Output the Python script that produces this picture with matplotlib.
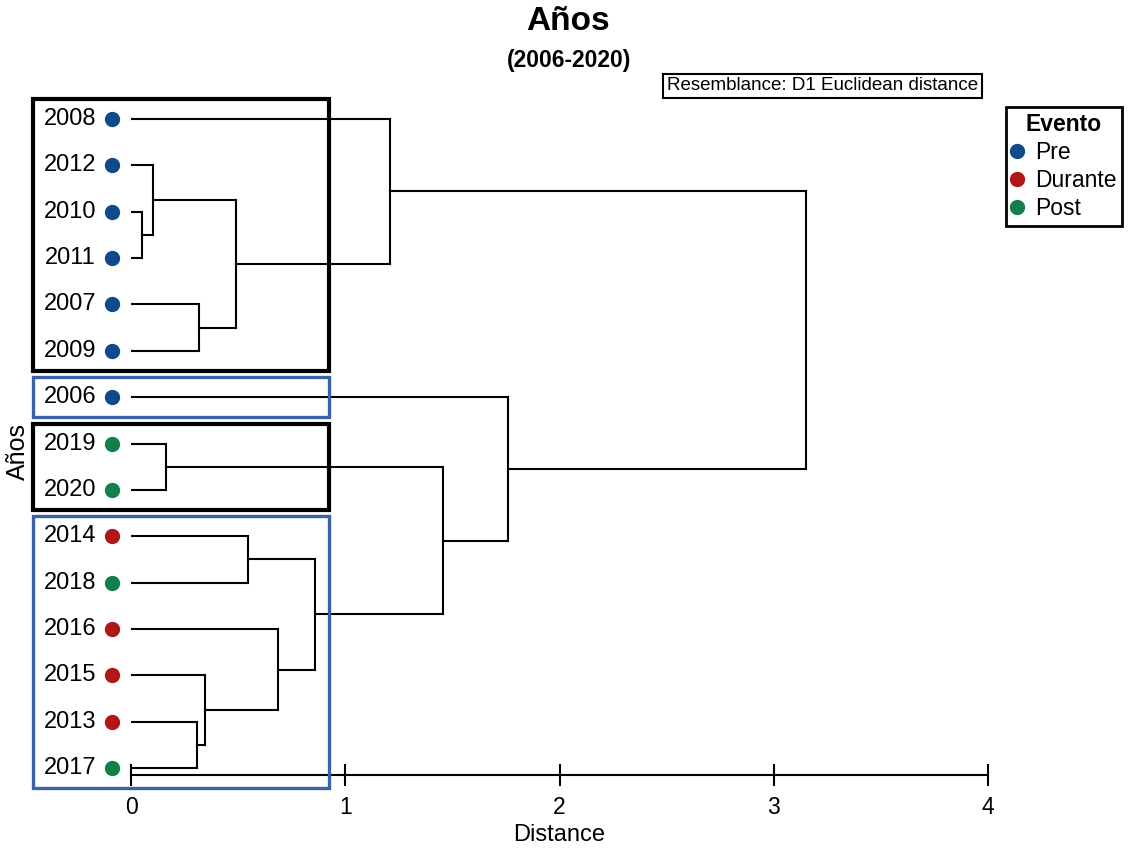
import numpy as np
import matplotlib
matplotlib.use("Agg")
import matplotlib.pyplot as plt
from matplotlib.patches import Rectangle
from matplotlib.lines import Line2D

plt.rcParams['font.family'] = ['Liberation Sans', 'DejaVu Sans']

# ----------------------------------------------------------------------
# data (leaves in display order, top to bottom)
# ----------------------------------------------------------------------
leaves = ['2008', '2012', '2010', '2011', '2007', '2009', '2006',
          '2019', '2020', '2014', '2018', '2016', '2015', '2013', '2017']
evento = ['Pre', 'Pre', 'Pre', 'Pre', 'Pre', 'Pre', 'Pre',
          'Post', 'Post', 'Durante', 'Post', 'Durante', 'Durante',
          'Durante', 'Post']

# linkage style merges: (child a, child b, distance); new ids start at 15
merges = [
    (2, 3, 0.050),
    (1, 15, 0.101),
    (4, 5, 0.317),
    (16, 17, 0.489),
    (0, 18, 1.209),
    (7, 8, 0.163),
    (13, 14, 0.307),
    (12, 21, 0.347),
    (9, 10, 0.547),
    (11, 22, 0.684),
    (23, 24, 0.860),
    (20, 25, 1.455),
    (6, 26, 1.759),
    (19, 27, 3.150),
]

# groups boxed on the left: (first leaf, last leaf, colour)
groups = [(0, 5, 'black'), (6, 6, 'blue'), (7, 8, 'black'), (9, 14, 'blue')]

colors = {'Pre': '#0f4a8a', 'Durante': '#b01818', 'Post': '#12804a'}
box_colors = {'black': ('black', 3.0), 'blue': ('#3b62a8', 2.4)}

# ----------------------------------------------------------------------
# figure
# ----------------------------------------------------------------------
fig = plt.figure(figsize=(11.33, 8.5), dpi=100)
ax = fig.add_axes([131/1133, 75/850, 857/1133, 688.4/850])

n = len(leaves)
ypos = {i: float(n - 1 - i) for i in range(n)}
hpos = {i: 0.0 for i in range(n)}

for k, (a, b, h) in enumerate(merges):
    node = n + k
    ax.plot([hpos[a], h], [ypos[a], ypos[a]], color='black', lw=1.5)
    ax.plot([hpos[b], h], [ypos[b], ypos[b]], color='black', lw=1.5)
    ax.plot([h, h], [ypos[a], ypos[b]], color='black', lw=1.5)
    ypos[node] = (ypos[a] + ypos[b]) / 2
    hpos[node] = h

# leaf labels and dots
for i, lab in enumerate(leaves):
    ax.text(-0.163, ypos[i], lab, ha='right', va='center', fontsize=17,
            clip_on=False)
    ax.plot(-0.089, ypos[i], 'o', color=colors[evento[i]], ms=10,
            clip_on=False)

# boxes
pad = 0.43
for first, last, c in groups:
    ec, lw = box_colors[c]
    y0 = ypos[last] - pad
    y1 = ypos[first] + pad
    rect = Rectangle((-0.457, y0), 0.924 + 0.457, y1 - y0, fill=False,
                     edgecolor=ec, lw=lw, clip_on=False, zorder=3)
    ax.add_patch(rect)

ax.set_xlim(0, 4)
ax.set_ylim(-0.15, 14.7)
for s in ['left', 'right', 'top']:
    ax.spines[s].set_visible(False)
ax.spines['bottom'].set_linewidth(1.5)
ax.set_yticks([])
ax.set_xticks([0, 1, 2, 3, 4])
ax.tick_params(axis='x', direction='inout', length=16, width=1.5,
               labelsize=16.5, pad=7)
ax.set_xlabel('Distance', fontsize=17, labelpad=4)

fig.text(18/1133, 1 - 452/850, 'Años', rotation=90, ha='center',
         va='center', fontsize=18)

# titles
fig.text(568/1133, 1 - 22/850, 'Años', ha='center', va='center',
         fontsize=24, fontweight='bold')
fig.text(569/1133, 1 - 60/850, '(2006-2020)', ha='center', va='center',
         fontsize=16.5, fontweight='bold')

fig.text(667/1133, 1 - 86/850, 'Resemblance: D1 Euclidean distance',
         ha='left', va='center', fontsize=13.5,
         bbox=dict(boxstyle='square,pad=0.2', fc='white', ec='black', lw=1.5))

# legend
handles = [Line2D([], [], marker='o', ls='', color=colors[e], ms=10)
           for e in ['Pre', 'Durante', 'Post']]
leg = fig.legend(handles, ['Pre', 'Durante', 'Post'], title='Evento',
                 loc='upper left', bbox_to_anchor=(1006/1133, 1 - 107/850),
                 fontsize=16.5, title_fontsize=16.5, frameon=True,
                 fancybox=False, edgecolor='black', framealpha=1,
                 handlelength=0.5, handletextpad=0.5, labelspacing=0.22,
                 borderpad=0.25, borderaxespad=0)
leg.get_title().set_fontweight('bold')
leg.get_frame().set_linewidth(2)

fig.savefig('out.png', dpi=100)
